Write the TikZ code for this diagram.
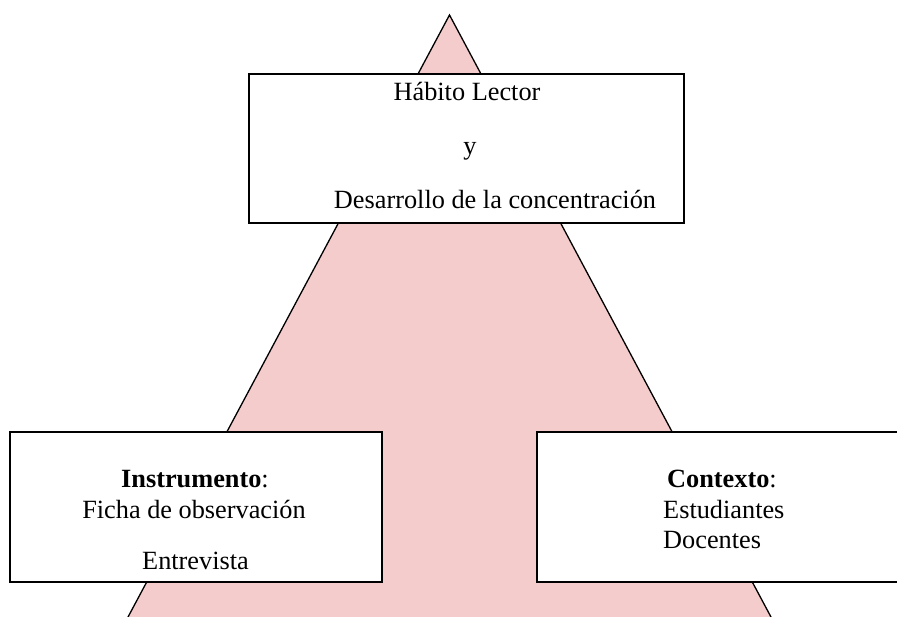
\documentclass[tikz,border=0pt]{standalone}
\usepackage{fontspec}
\setmainfont{Liberation Serif}
\begin{document}
\begin{tikzpicture}[x=1pt,y=-1pt,
  box/.style={draw=black,line width=1.3pt,fill=white,rectangle,inner sep=0pt},
  txt/.style={inner sep=0pt,anchor=base,font=\fontsize{26.3}{31}\selectfont},
  txtl/.style={txt,anchor=base west}]
\definecolor{pinkfill}{RGB}{244,204,204}
\useasboundingbox (0,0) rectangle (897,617);
\clip (0,0) rectangle (897,617);
\coordinate (apex) at (449.5,15);
\coordinate (bl) at (83.7,700);
\coordinate (br) at (815.3,700);
\filldraw[fill=pinkfill,draw=black,line width=1.3pt] (bl) -- (apex) -- (br);
% top box
\node[box,minimum width=435pt,minimum height=149pt] (top) at (466.5,148.5) {};
\node[txt] (t1) at (467,101) {Hábito Lector};
\node[txt] (t2) at (470,155) {y};
\node[txt] (t3) at (495,209) {Desarrollo de la concentración};
% left box
\node[box,minimum width=372pt,minimum height=150pt] (left) at (196,507) {};
\node[txt] (l1) at (195,487) {\textbf{Instrumento}:};
\node[txt] (l2) at (194,518) {Ficha de observación};
\node[txt] (l3) at (195.5,569) {Entrevista};
% right box
\node[box,minimum width=368pt,minimum height=150pt] (right) at (721,507) {};
\node[txt] (r1) at (722,487) {\textbf{Contexto}:};
\node[txtl] (r2) at (663,518) {Estudiantes};
\node[txtl] (r3) at (663,548) {Docentes};
\end{tikzpicture}
\end{document}
